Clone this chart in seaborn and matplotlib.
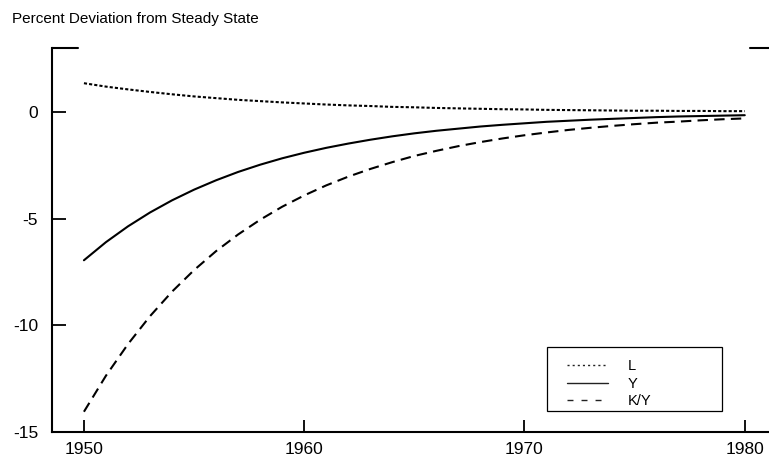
import numpy as np
import pandas as pd
import matplotlib
matplotlib.use("Agg")
import matplotlib.pyplot as plt
import seaborn as sns
from matplotlib.patches import Rectangle
from matplotlib.lines import Line2D

# Values (percent deviation from steady state)
years = list(range(1950, 1981))
l_dev = [1.35, 1.19, 1.06, 0.94, 0.83, 0.73, 0.65, 0.57, 0.51, 0.45,
         0.40, 0.35, 0.31, 0.28, 0.24, 0.22, 0.19, 0.17, 0.15, 0.13,
         0.12, 0.10, 0.09, 0.08, 0.07, 0.06, 0.06, 0.05, 0.05, 0.04, 0.04]
y_dev = [-6.95, -6.10, -5.36, -4.71, -4.14, -3.64, -3.20, -2.81, -2.47, -2.17,
         -1.91, -1.68, -1.48, -1.30, -1.14, -1.00, -0.88, -0.78, -0.68, -0.60,
         -0.53, -0.46, -0.41, -0.36, -0.32, -0.28, -0.24, -0.21, -0.19, -0.17, -0.15]
ky_dev = [-14.05, -12.36, -10.88, -9.57, -8.42, -7.41, -6.52, -5.74, -5.05, -4.44,
          -3.91, -3.44, -3.03, -2.67, -2.35, -2.06, -1.82, -1.60, -1.41, -1.24,
          -1.09, -0.96, -0.84, -0.74, -0.65, -0.57, -0.50, -0.45, -0.39, -0.34, -0.30]
x_ticks = [1950, 1960, 1970, 1980]
y_ticks = [0, -5, -10, -15]

sns.set_theme(style="white")
plt.rcParams["font.family"] = ["Liberation Sans", "DejaVu Sans"]
plt.rcParams["axes.unicode_minus"] = False

fig = plt.figure(figsize=(7.69, 4.57), dpi=100)
ax = fig.add_axes([52 / 769, 1 - 432 / 457, 717 / 769, 384 / 457])

# (name, values, line style in plot, line style in legend)
series = [
    ("L", l_dev, (0, (1.5, 1.0)), (0, (1.5, 2.2))),
    ("Y", y_dev, "-", "-"),
    ("K/Y", ky_dev, (0, (5, 3)), (0, (4.3, 5.8))),
]
handles = []
for name, vals, ls, leg_ls in series:
    df = pd.DataFrame({"year": years, "value": vals})
    sns.lineplot(data=df, x="year", y="value", ax=ax, color="black",
                 linestyle=ls, linewidth=1.5)
    handles.append(Line2D([], [], color="#222222", linestyle=leg_ls,
                          linewidth=1.0, label=name))

ax.set_xlim(1948.55, 1981.1)
ax.set_ylim(-15, 3)
ax.set_xticks(x_ticks)
ax.set_yticks(y_ticks)
ax.set_xlabel("")
ax.set_ylabel("")

for side in ["top", "right"]:
    ax.spines[side].set_visible(False)
for side in ["left", "bottom"]:
    ax.spines[side].set_color("black")
    ax.spines[side].set_linewidth(1.5)

ax.tick_params(axis="y", direction="in", length=10, width=1.3, pad=10,
               labelsize=12.5, colors="black", left=True)
ax.tick_params(axis="x", direction="in", length=8.5, width=1.3, pad=7,
               labelsize=12.5, colors="black", bottom=True)

# short corner segments on the top edge
ax.plot([0, 0.0363], [1, 1], transform=ax.transAxes, color="black",
        lw=1.5, clip_on=False)
ax.plot([0.9735, 1.0], [1, 1], transform=ax.transAxes, color="black",
        lw=1.5, clip_on=False)

# legend, frame drawn separately so its box matches the reference
leg = ax.legend(handles=handles, loc="center left",
                bbox_to_anchor=(0.718, 0.126), frameon=False, fontsize=10.5,
                handlelength=2.8, handletextpad=1.37, labelspacing=0.22,
                borderpad=0, borderaxespad=0)
for t in leg.get_texts():
    t.set_color("black")
ax.add_patch(Rectangle((0.690, 0.0547), 0.244, 0.167, transform=ax.transAxes,
                       fill=False, edgecolor="black", lw=0.9))

fig.text(12 / 769, 1 - 12 / 457, "Percent Deviation from Steady State",
         fontsize=11, ha="left", va="top", color="black")

fig.savefig("out.png", dpi=100)
